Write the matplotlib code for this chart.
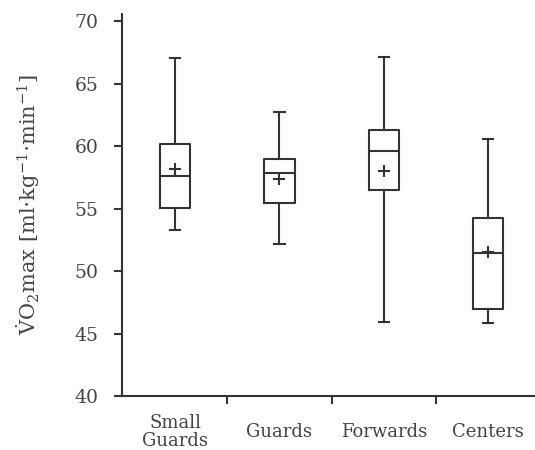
import matplotlib
matplotlib.use("Agg")
import matplotlib.pyplot as plt

# Rozmery a styl
plt.rcParams['font.family'] = ['DejaVu Serif']
plt.rcParams['mathtext.fontset'] = 'custom'
plt.rcParams['mathtext.rm'] = 'DejaVu Serif'
plt.rcParams['mathtext.it'] = 'DejaVu Serif:italic'

# Data
skupiny = ['Small\nGuards', 'Guards', 'Forwards', 'Centers']
whisker_low = [53.3, 52.2, 45.95, 45.85]
q1 = [55.05, 55.48, 56.52, 46.99]
median = [57.64, 57.84, 59.65, 51.43]
q3 = [60.16, 59.0, 61.33, 54.28]
whisker_high = [67.05, 62.72, 67.16, 60.56]
prumer = [58.2, 57.38, 58.02, 51.56]

barva = '#333333'
text_barva = '#444444'

stats = []
for i in range(len(skupiny)):
    stats.append({'whislo': whisker_low[i], 'q1': q1[i], 'med': median[i],
                  'q3': q3[i], 'whishi': whisker_high[i], 'mean': prumer[i],
                  'fliers': []})

fig = plt.figure(figsize=(5.35, 4.5), dpi=100)
ax = fig.add_axes([0.228, 0.12, 0.772, 0.849])

pozice = list(range(1, len(skupiny) + 1))
ax.bxp(stats, positions=pozice, widths=0.29, showmeans=True,
       boxprops=dict(color=barva, linewidth=1.5),
       whiskerprops=dict(color=barva, linewidth=1.5),
       capprops=dict(color=barva, linewidth=1.5),
       medianprops=dict(color=barva, linewidth=1.5),
       meanprops=dict(marker='+', markeredgecolor=barva, markersize=8,
                      markeredgewidth=1.5),
       capwidths=0.1)

ax.set_xlim(0.49, 4.45)
ax.set_ylim(40, 70.6)
ax.set_yticks([40, 45, 50, 55, 60, 65, 70])

# popisky kategorii bez carky, carky mezi kategoriemi
ax.set_xticks(pozice)
ax.set_xticklabels(skupiny, va='center', linespacing=1.0)
ax.tick_params(axis='x', length=0, pad=26, labelsize=13, labelcolor=text_barva)
ax.set_xticks([1.5, 2.5, 3.5], minor=True)
ax.tick_params(axis='x', which='minor', length=6, width=1.5, color=barva)
ax.tick_params(axis='y', length=6, width=1.5, color=barva, labelsize=13.5,
               labelcolor=text_barva, pad=11)

for s in ['top', 'right']:
    ax.spines[s].set_visible(False)
for s in ['left', 'bottom']:
    ax.spines[s].set_linewidth(1.5)
    ax.spines[s].set_color(barva)

ax.set_ylabel(r'$\dot{\mathrm{V}}$O$_2$max [ml$\cdot$kg$^{\mathrm{-1}}$$\cdot$min$^{\mathrm{-1}}$]',
              fontsize=15, color=text_barva)
ax.yaxis.set_label_coords(-0.194, 0.5)

fig.savefig('out.png', dpi=100)
